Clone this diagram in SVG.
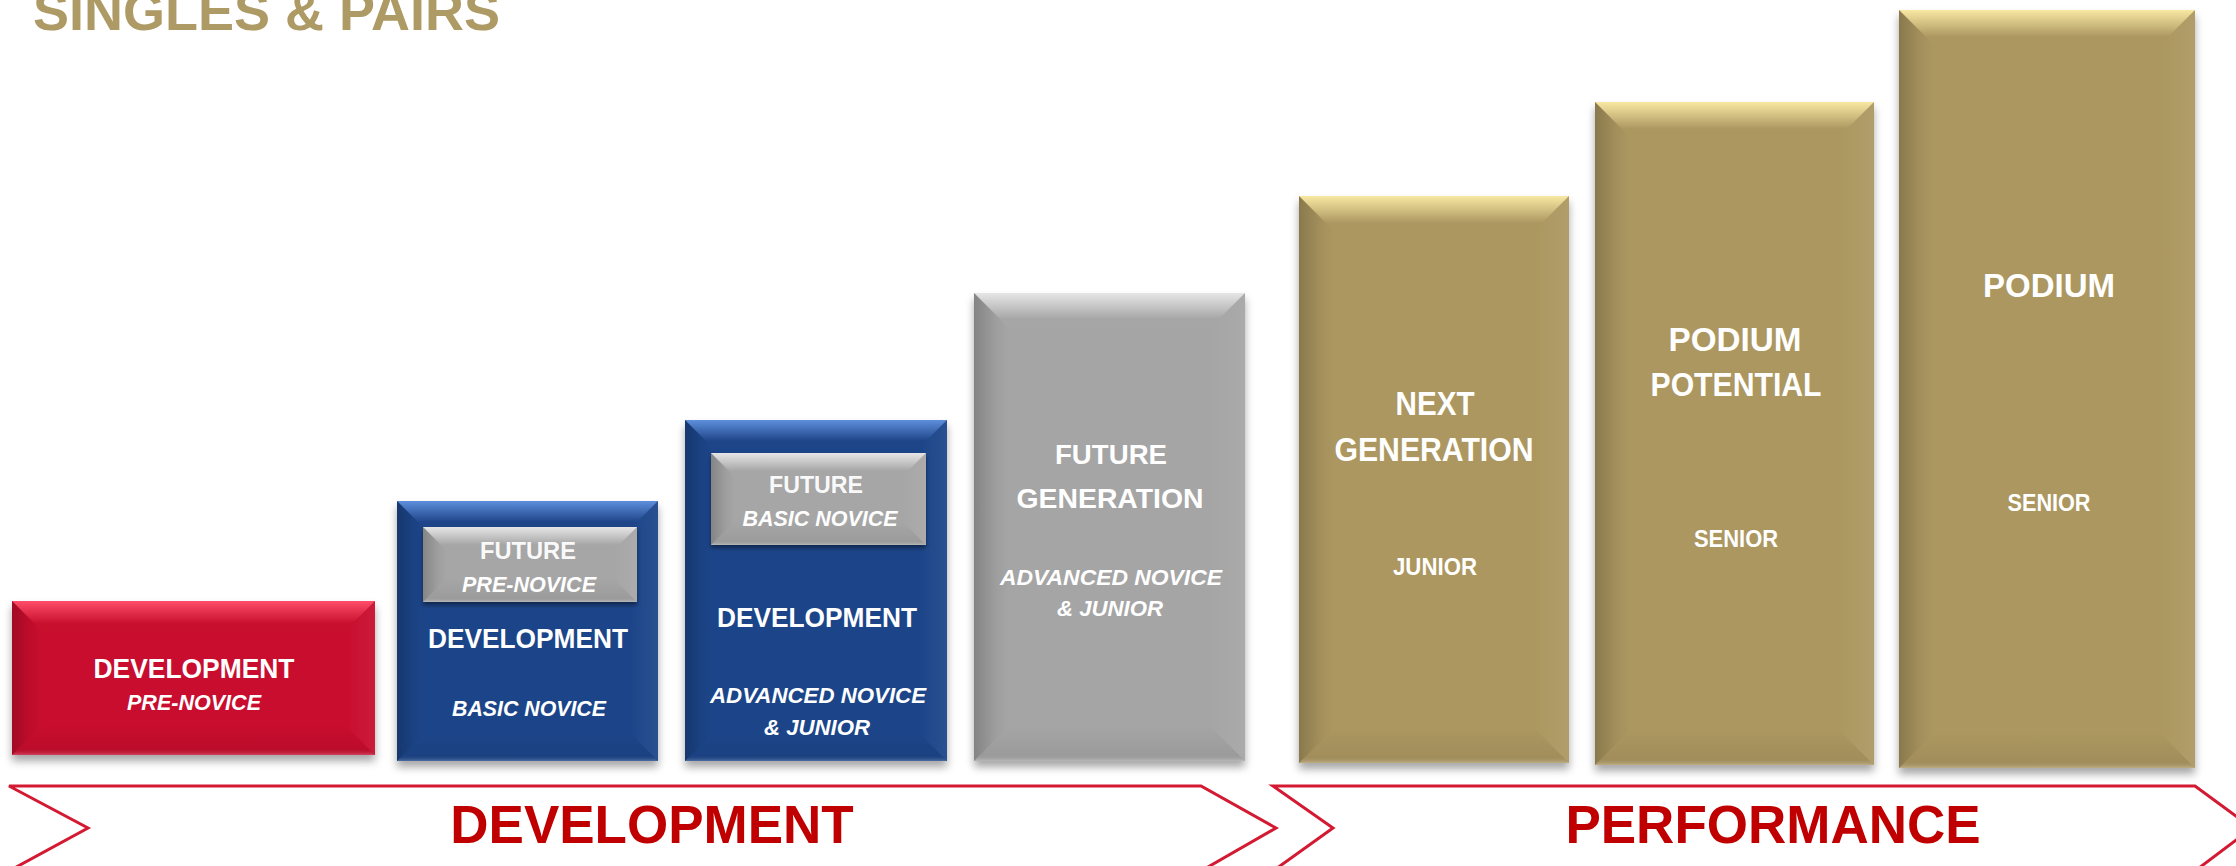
<svg xmlns="http://www.w3.org/2000/svg" width="2236" height="866" viewBox="0 0 2236 866">
<defs>
<style>
.t{font-family:"Liberation Sans",Arial,sans-serif;font-weight:bold;fill:#ffffff;text-anchor:middle}
.i{font-style:italic}
.h28{font-size:28px}
.h22{font-size:22px}
.h24{font-size:24px}
.h34{font-size:34px}
.big{font-family:"Liberation Sans",Arial,sans-serif;font-weight:bold;font-size:53px;fill:#C00000;text-anchor:middle}
.title{font-family:"Liberation Sans",Arial,sans-serif;font-weight:bold;font-size:53px;fill:#AD9A64}
.chev{fill:none;stroke:#D31A32;stroke-width:3}
.left{fill:url(#bvLeft)}
.right{fill:url(#bvRight)}
.bot{fill:url(#bvBot)}
.tRed{fill:url(#topRed)}
.tBlue{fill:url(#topBlue)}
.tGrey{fill:url(#topGrey)}
.tGold{fill:url(#topGold)}
</style>
<linearGradient id="topRed" x1="0" y1="0" x2="0" y2="1">
<stop offset="0" stop-color="#FF4D69"/>
<stop offset="0.75" stop-color="#C8102E"/>
</linearGradient>
<linearGradient id="topBlue" x1="0" y1="0" x2="0" y2="1">
<stop offset="0" stop-color="#5E8FDC"/>
<stop offset="0.75" stop-color="#1F4589"/>
</linearGradient>
<linearGradient id="topGrey" x1="0" y1="0" x2="0" y2="1">
<stop offset="0" stop-color="#E6E6E6"/>
<stop offset="0.75" stop-color="#A6A6A6"/>
</linearGradient>
<linearGradient id="topGold" x1="0" y1="0" x2="0" y2="1">
<stop offset="0" stop-color="#F8E8A2"/>
<stop offset="0.75" stop-color="#AC9761"/>
</linearGradient>
<linearGradient id="bvLeft" x1="0" y1="0" x2="1" y2="0">
<stop offset="0" stop-color="#000000" stop-opacity="0.2"/>
<stop offset="0.6" stop-color="#000000" stop-opacity="0.05"/>
<stop offset="1" stop-color="#000000" stop-opacity="0"/>
</linearGradient>
<linearGradient id="bvRight" x1="0" y1="0" x2="1" y2="0">
<stop offset="0" stop-color="#ffffff" stop-opacity="0"/>
<stop offset="1" stop-color="#ffffff" stop-opacity="0.06"/>
</linearGradient>
<linearGradient id="bvBot" x1="0" y1="0" x2="0" y2="1">
<stop offset="0" stop-color="#000000" stop-opacity="0"/>
<stop offset="0.8" stop-color="#000000" stop-opacity="0.06"/>
<stop offset="1" stop-color="#ffffff" stop-opacity="0.22"/>
</linearGradient>
<filter id="sh" x="-10%" y="-10%" width="120%" height="125%">
<feDropShadow dx="0" dy="6" stdDeviation="4" flood-color="#000000" flood-opacity="0.35"/>
</filter>
<filter id="sh2" x="-10%" y="-10%" width="120%" height="130%">
<feDropShadow dx="0" dy="3" stdDeviation="2" flood-color="#000000" flood-opacity="0.45"/>
</filter>
</defs>
<rect width="2236" height="866" fill="#ffffff"/>

<text class="title" x="33" y="30" textLength="467" lengthAdjust="spacingAndGlyphs">SINGLES &amp; PAIRS</text>

<g id="arrows">
<path class="chev" d="M9,786 H1201 L1276,828 L1201,871 H9 L88,828 Z"/>
<path class="chev" d="M1273,786 H2195 L2252,828 L2195,871 H1273 L1333,828 Z"/>
<text class="big" x="652" y="843">DEVELOPMENT</text>
<text class="big" x="1773" y="843">PERFORMANCE</text>
</g>

<g id="dev-pre-novice">
<g filter="url(#sh)"><rect x="12" y="601" width="363" height="154" fill="#C8102E"/></g>
<polygon class="tRed" points="12,601 375,601 345,631 42,631"/>
<polygon class="left" points="12,601 42,631 42,725 12,755"/>
<polygon class="right" points="375,601 375,755 345,725 345,631"/>
<polygon class="bot" points="12,755 42,725 345,725 375,755"/>
<text class="t h28" x="194" y="678" textLength="201" lengthAdjust="spacingAndGlyphs">DEVELOPMENT</text>
<text class="t h22 i" x="194" y="710" textLength="134" lengthAdjust="spacingAndGlyphs">PRE-NOVICE</text>
</g>

<g id="dev-basic-novice">
<g filter="url(#sh)"><rect x="397" y="501" width="261" height="260" fill="#1F4589"/></g>
<polygon class="tBlue" points="397,501 658,501 630,529 425,529"/>
<polygon class="left" points="397,501 425,529 425,733 397,761"/>
<polygon class="right" points="658,501 658,761 630,733 630,529"/>
<polygon class="bot" points="397,761 425,733 630,733 658,761"/>
<g id="future-pre-novice">
<g filter="url(#sh2)"><rect x="423" y="527" width="214" height="75" fill="#A6A6A6"/></g>
<polygon class="tGrey" points="423,527 637,527 613,551 447,551"/>
<polygon class="left" points="423,527 447,551 447,578 423,602"/>
<polygon class="right" points="637,527 637,602 613,578 613,551"/>
<polygon class="bot" points="423,602 447,578 613,578 637,602"/>
<text class="t h24" x="528" y="559" textLength="96" lengthAdjust="spacingAndGlyphs" fill-opacity="0.95">FUTURE</text>
<text class="t h22 i" x="529" y="592" textLength="134" lengthAdjust="spacingAndGlyphs">PRE-NOVICE</text>
</g>
<text class="t h28" x="528" y="648" textLength="200" lengthAdjust="spacingAndGlyphs">DEVELOPMENT</text>
<text class="t h22 i" x="529" y="716" textLength="154" lengthAdjust="spacingAndGlyphs">BASIC NOVICE</text>
</g>

<g id="dev-advanced-novice">
<g filter="url(#sh)"><rect x="685" y="420" width="262" height="341" fill="#1F4589"/></g>
<polygon class="tBlue" points="685,420 947,420 919,448 713,448"/>
<polygon class="left" points="685,420 713,448 713,733 685,761"/>
<polygon class="right" points="947,420 947,761 919,733 919,448"/>
<polygon class="bot" points="685,761 713,733 919,733 947,761"/>
<g id="future-basic-novice">
<g filter="url(#sh2)"><rect x="711" y="453" width="215" height="92" fill="#A6A6A6"/></g>
<polygon class="tGrey" points="711,453 926,453 902,477 735,477"/>
<polygon class="left" points="711,453 735,477 735,521 711,545"/>
<polygon class="right" points="926,453 926,545 902,521 902,477"/>
<polygon class="bot" points="711,545 735,521 902,521 926,545"/>
<text class="t h24" x="816" y="493" textLength="94" lengthAdjust="spacingAndGlyphs" fill-opacity="0.95">FUTURE</text>
<text class="t h22 i" x="820" y="526" textLength="155" lengthAdjust="spacingAndGlyphs">BASIC NOVICE</text>
</g>
<text class="t h28" x="817" y="627" textLength="200" lengthAdjust="spacingAndGlyphs">DEVELOPMENT</text>
<text class="t h22 i" x="818" y="703" textLength="216" lengthAdjust="spacingAndGlyphs">ADVANCED NOVICE</text>
<text class="t h22 i" x="817" y="735" textLength="106" lengthAdjust="spacingAndGlyphs">&amp; JUNIOR</text>
</g>

<g id="future-generation">
<g filter="url(#sh)"><rect x="974" y="293" width="271" height="468" fill="#A5A5A5"/></g>
<polygon class="tGrey" points="974,293 1245,293 1210,328 1009,328"/>
<polygon class="left" points="974,293 1009,328 1009,726 974,761"/>
<polygon class="right" points="1245,293 1245,761 1210,726 1210,328"/>
<polygon class="bot" points="974,761 1009,726 1210,726 1245,761"/>
<text class="t h28" x="1111" y="464" textLength="112" lengthAdjust="spacingAndGlyphs">FUTURE</text>
<text class="t h28" x="1110" y="508" textLength="187" lengthAdjust="spacingAndGlyphs">GENERATION</text>
<text class="t h22 i" x="1111" y="585" textLength="222" lengthAdjust="spacingAndGlyphs">ADVANCED  NOVICE</text>
<text class="t h22 i" x="1110" y="616" textLength="106" lengthAdjust="spacingAndGlyphs">&amp; JUNIOR</text>
</g>

<g id="next-generation">
<g filter="url(#sh)"><rect x="1299" y="196" width="270" height="567" fill="#AC9761"/></g>
<polygon class="tGold" points="1299,196 1569,196 1533,232 1335,232"/>
<polygon class="left" points="1299,196 1335,232 1335,727 1299,763"/>
<polygon class="right" points="1569,196 1569,763 1533,727 1533,232"/>
<polygon class="bot" points="1299,763 1335,727 1533,727 1569,763"/>
<text class="t h34" x="1435" y="415" textLength="79" lengthAdjust="spacingAndGlyphs">NEXT</text>
<text class="t h34" x="1434" y="461" textLength="199" lengthAdjust="spacingAndGlyphs">GENERATION</text>
<text class="t h24" x="1435" y="575" textLength="84" lengthAdjust="spacingAndGlyphs">JUNIOR</text>
</g>

<g id="podium-potential">
<g filter="url(#sh)"><rect x="1595" y="102" width="279" height="663" fill="#AC9761"/></g>
<polygon class="tGold" points="1595,102 1874,102 1838,138 1631,138"/>
<polygon class="left" points="1595,102 1631,138 1631,729 1595,765"/>
<polygon class="right" points="1874,102 1874,765 1838,729 1838,138"/>
<polygon class="bot" points="1595,765 1631,729 1838,729 1874,765"/>
<text class="t h34" x="1735" y="351" textLength="133" lengthAdjust="spacingAndGlyphs">PODIUM</text>
<text class="t h34" x="1736" y="396" textLength="171" lengthAdjust="spacingAndGlyphs">POTENTIAL</text>
<text class="t h24" x="1736" y="547" textLength="84" lengthAdjust="spacingAndGlyphs">SENIOR</text>
</g>

<g id="podium">
<g filter="url(#sh)"><rect x="1899" y="10" width="296" height="758" fill="#AC9761"/></g>
<polygon class="tGold" points="1899,10 2195,10 2159,46 1935,46"/>
<polygon class="left" points="1899,10 1935,46 1935,732 1899,768"/>
<polygon class="right" points="2195,10 2195,768 2159,732 2159,46"/>
<polygon class="bot" points="1899,768 1935,732 2159,732 2195,768"/>
<text class="t h34" x="2049" y="297" textLength="132" lengthAdjust="spacingAndGlyphs">PODIUM</text>
<text class="t h24" x="2049" y="511" textLength="83" lengthAdjust="spacingAndGlyphs">SENIOR</text>
</g>
</svg>
